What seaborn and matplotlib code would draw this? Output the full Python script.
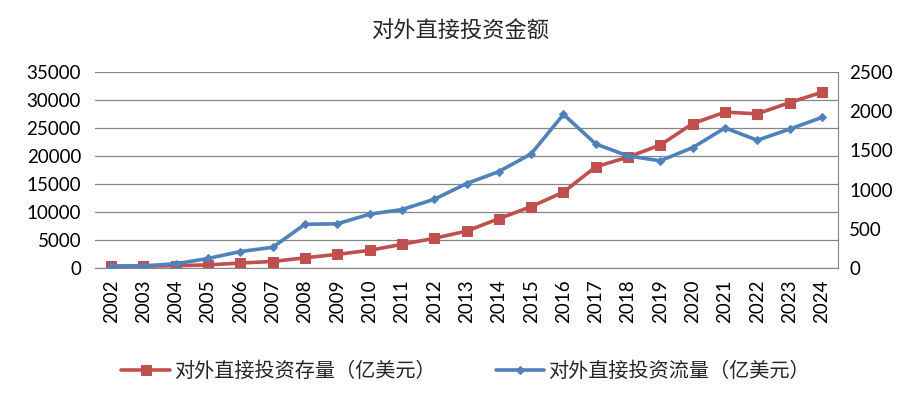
import pandas as pd
import seaborn as sns
import matplotlib.pyplot as plt
from matplotlib.ticker import MultipleLocator

# 数据
years = [str(y) for y in range(2002, 2025)]
stock = [299, 332, 448, 572, 906, 1179, 1840, 2458, 3172, 4248, 5319, 6605, 8826,
         10979, 13574, 18090, 19823, 21989, 25807, 27852, 27548, 29554, 31400]
flow = [27, 28.5, 55, 122.6, 211.6, 265, 559, 565, 688, 746.5, 878, 1078, 1231,
        1457, 1961, 1583, 1430, 1369, 1537, 1788, 1631, 1773, 1922]
stock_label = '对外直接投资存量（亿美元）'
flow_label = '对外直接投资流量（亿美元）'
title = '对外直接投资金额'

df = pd.DataFrame({'year': years, 'stock': stock, 'flow': flow})
df['x'] = range(len(years))

sns.set_style('white')
plt.rcParams['font.family'] = ['Lato', 'Noto Sans CJK SC', 'DejaVu Sans']

fig = plt.figure(figsize=(9.22, 4.05), dpi=100)
ax = fig.add_axes([0.103, 0.338, 0.806, 0.484])
ax2 = ax.twinx()

red = '#C0504D'
blue = '#4F81BD'

sns.lineplot(data=df, x='x', y='stock', ax=ax, color=red, linewidth=2.6,
             marker='s', markersize=6.5, markeredgecolor=red, label=stock_label, legend=False)
sns.lineplot(data=df, x='x', y='flow', ax=ax2, color=blue, linewidth=2.6,
             marker='D', markersize=4.5, markeredgecolor=blue, label=flow_label, legend=False)

ax.set_xlim(-0.5, len(years) - 0.5)
ax.set_ylim(0, 35000)
ax2.set_ylim(0, 2500)
ax.yaxis.set_major_locator(MultipleLocator(5000))
ax2.yaxis.set_major_locator(MultipleLocator(500))
ax.set_xticks(df['x'])
ax.set_xticklabels(years, rotation=90)
ax.set_xlabel('')
ax.set_ylabel('')
ax2.set_ylabel('')

ax.grid(axis='y', color='#868686', linewidth=0.9)
ax.set_axisbelow(True)
for a in (ax, ax2):
    for s in ('top', 'left'):
        a.spines[s].set_visible(False)
    a.spines['bottom'].set_color('#868686')
    a.spines['right'].set_color('#868686')
    a.tick_params(length=0, labelsize=13.5, colors='black')
ax.spines['right'].set_visible(False)
ax2.spines['bottom'].set_visible(False)
ax.tick_params(axis='x', pad=8)
ax.tick_params(axis='y', pad=10)
ax2.tick_params(axis='y', pad=8)

fig.suptitle(title, y=0.95, fontsize=16, family=['Noto Sans CJK SC', 'DejaVu Sans'])

handles = ax.get_lines()[:1] + ax2.get_lines()[:1]
fig.legend(handles, [stock_label, flow_label], loc='center', bbox_to_anchor=(0.505, 0.083),
           ncol=2, frameon=False, handlelength=2.4, handletextpad=0.2, columnspacing=3.0,
           prop={'family': ['Noto Sans CJK SC', 'DejaVu Sans'], 'size': 14.5})

plt.savefig('out.png', dpi=100)
plt.close()
